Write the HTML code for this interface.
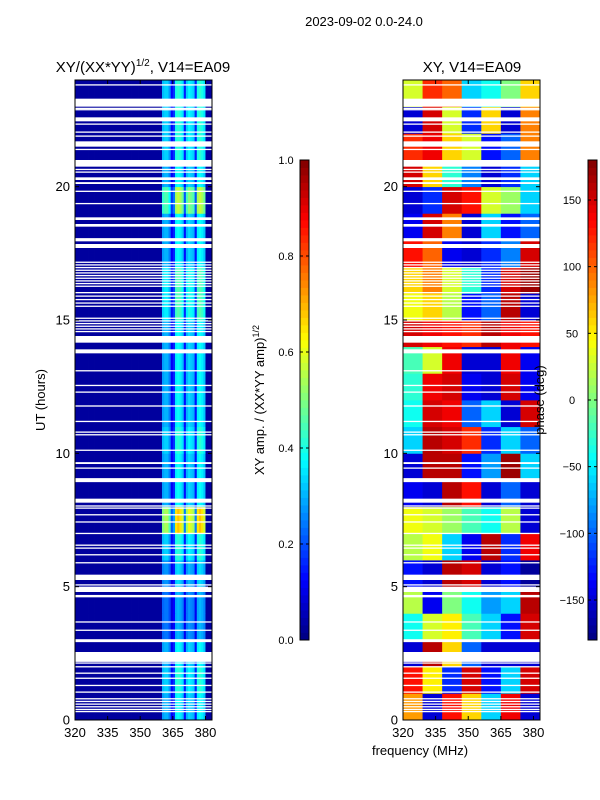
<!DOCTYPE html>
<html><head><meta charset="utf-8"><style>
body{margin:0;background:#fff;}
svg{display:block;font-family:"Liberation Sans",sans-serif;}
</style></head><body>
<svg id="fig" width="600" height="800" viewBox="0 0 600 800">
<rect width="600" height="800" fill="#fff"/>
<text x="364" y="26" font-size="13" text-anchor="middle">2023-09-02 0.0-24.0</text>
<text x="143" y="72" font-size="15" text-anchor="middle">XY/(XX*YY)<tspan font-size="10" dy="-6">1/2</tspan><tspan dy="6">, V14=EA09</tspan></text>
<text x="472" y="72" font-size="15" text-anchor="middle">XY, V14=EA09</text>
<g id="ampG"></g>
<g id="phG"></g>
<g id="gapG"></g>
<g id="axG"></g>
<text transform="translate(45,400) rotate(-90)" font-size="13" text-anchor="middle">UT (hours)</text>
<text x="420" y="755" font-size="13" text-anchor="middle">frequency (MHz)</text>
<text transform="translate(264,400) rotate(-90)" font-size="13" text-anchor="middle">XY amp. / (XX*YY amp)<tspan font-size="9" dy="-5">1/2</tspan></text>
<text transform="translate(544,400) rotate(-90)" font-size="13" text-anchor="middle">phase (deg)</text>
</svg>
<script>
// ---------- data ----------
const ampChanStart = 320;
const ampProfile = [0.03,0.03,0.03,0.03,0.03,0.03,0.03,0.03,0.03,0.03,
  0.03,0.03,0.03,0.03,0.03,0.03,0.03,0.03,0.03,0.03,
  0.03,0.03,0.03,0.03,0.03,0.03,0.03,0.03,0.03,0.03,
  0.03,0.03,0.03,0.03,0.03,0.03,0.03,0.03,0.03,0.03,
  0.28,0.3,0.3,0.25,0.12,0.16,0.36,0.38,0.36,0.32,
  0.14,0.3,0.34,0.32,0.3,0.14,0.36,0.38,0.36,0.32,
  0.03,0.03,0.03];
const ampHourGain = [1.0,1.1,1.0,0.8,0.8,0.9,1.1,1.8,1.0,1.0,1.1,1.0,1.0,1.0,1.0,1.2,1.2,1.0,1.0,1.5,1.0,1.1,1.1,1.1];
const phaseFreqEdges = [320,329,338,347,356,365,374,383];
const phaseRows = [ // hour 0..23, 7 frequency groups (deg)
 [80,-150,130,60,-60,140,-150],
 [130,50,-120,150,-130,-60,150],
 [-150,160,60,-100,-150,-150,-150],
 [-40,30,50,-20,-60,-130,150],
 [20,-140,0,-40,-80,-60,160],
 [-130,-150,160,150,-150,-130,-170],
 [20,40,-60,-140,160,-120,140],
 [40,30,10,-20,-40,20,-150],
 [-140,-150,160,130,-150,-100,-150],
 [-150,160,160,-130,-80,170,-60],
 [-60,160,150,120,-120,-60,-100],
 [-40,150,140,-100,-60,-150,150],
 [-30,140,150,-140,-150,150,-140],
 [-20,30,140,-150,-150,140,-140],
 [150,140,130,120,160,140,130],
 [40,60,20,-130,-100,160,-150],
 [60,90,30,-30,-120,150,170],
 [130,100,-140,-150,-120,-90,150],
 [-140,150,90,-150,-60,-130,-100],
 [-150,-120,150,130,30,10,-60],
 [150,60,-30,-90,-150,-120,-60],
 [120,140,60,30,-130,-100,90],
 [-150,150,30,-120,60,-150,90],
 [30,120,100,-60,-40,0,60]];
const gapStart = [23.8,23.0,22.92,22.87,22.45,22.33,22.03,21.88,21.5,21.38,20.75,20.63,20.53,20.25,20.1,19.81,19.35,18.75,18.5,17.95,17.7,
 17.15,17.05,16.95,16.85,16.75,16.65,16.55,16.45,16.35,16.25,16.0,15.88,15.75,15.62,15.5,15.05,14.95,14.85,14.75,14.65,14.55,14.15,13.75,13.08,12.53,12.28,
 11.75,11.18,10.78,10.68,10.1,9.6,9.43,8.92,8.15,8.01,7.93,7.68,7.41,6.98,6.54,6.43,6.18,5.88,5.25,5.05,4.8,4.6,3.66,3.35,2.92,2.18,2.12,1.98,1.74,1.55,1.28,1.03,
 0.78,0.68,0.58,0.48,0.38,0.3];
const gapEnd = [23.84,23.3,22.96,22.91,22.6,22.37,22.07,21.92,21.7,21.42,21.0,20.67,20.57,20.35,20.17,19.85,19.39,18.85,18.6,18.07,17.85,
 17.19,17.09,16.99,16.89,16.79,16.69,16.59,16.49,16.39,16.29,16.05,15.92,15.79,15.66,15.54,15.09,14.99,14.89,14.79,14.69,14.59,14.4,13.9,13.12,12.57,12.32,
 11.8,11.22,10.82,10.72,10.14,9.67,9.47,9.07,8.3,8.05,7.97,7.72,7.45,7.02,6.58,6.47,6.22,5.92,5.45,5.09,5.0,4.69,3.7,3.39,3.03,2.55,2.16,2.02,1.78,1.59,1.32,1.07,
 0.82,0.72,0.62,0.52,0.42,0.34];
const ampTicks = [0,0.2,0.4,0.6,0.8,1.0];
const phaseTicks = [-150,-100,-50,0,50,100,150];
const xTicks = [320,335,350,365,380];
const yTicks = [0,5,10,15,20];

// ---------- geometry ----------
const NS='http://www.w3.org/2000/svg';
const P1={x0:75,x1:212}, P2={x0:403,x1:540}, Y0=720, Y1=80;
const F0=320,F1=383, H0=0,H1=24;
function xs(P,f){return P.x0+(f-F0)/(F1-F0)*(P.x1-P.x0);}
function ys(h){return Y0-(h-H0)/(H1-H0)*(Y0-Y1);}
function jet(v){v=Math.max(0,Math.min(1,v));
 const r=Math.min(4*v-1.5,-4*v+4.5),g=Math.min(4*v-0.5,-4*v+3.5),b=Math.min(4*v+0.5,-4*v+2.5);
 const c=t=>Math.round(255*Math.max(0,Math.min(1,t)));return `rgb(${c(r)},${c(g)},${c(b)})`;}
function mk(tag,attrs,parent){const e=document.createElementNS(NS,tag);for(const k in attrs)e.setAttribute(k,attrs[k]);parent.appendChild(e);return e;}

// amplitude heatmap
const ampG=document.getElementById('ampG');
for(let h=0;h<ampHourGain.length;h++){
 for(let c=0;c<ampProfile.length;c++){
  const f=ampChanStart+c;
  const v=f>=360&&f<380?ampProfile[c]*ampHourGain[h]:ampProfile[c];
  const r=mk('rect',{x:xs(P1,f),y:ys(h+1),width:xs(P1,f+1)-xs(P1,f)+0.4,height:ys(h)-ys(h+1)+0.4,fill:jet(v)},ampG);
  
  
 }
}
// phase heatmap
const phG=document.getElementById('phG');
for(let h=0;h<phaseRows.length;h++){
 for(let c=0;c<phaseRows[h].length;c++){
  const r=mk('rect',{x:xs(P2,phaseFreqEdges[c]),y:ys(h+1),width:xs(P2,phaseFreqEdges[c+1])-xs(P2,phaseFreqEdges[c])+0.4,height:ys(h)-ys(h+1)+0.4,fill:jet((phaseRows[h][c]+180)/360)},phG);
  
  
 }
}
// gaps
const gapG=document.getElementById('gapG');
for(let i=0;i<gapStart.length;i++){
 const y=ys(gapEnd[i]),hh=Math.max(1.3,ys(gapStart[i])-ys(gapEnd[i]));
 for(const P of [P1,P2]){
  const r=mk('rect',{x:P.x0,y:y,width:P.x1-P.x0,height:hh,fill:'#fff'},gapG);
  
  
 }
}
// axes
const axG=document.getElementById('axG');
for(const [P,nm] of [[P1,'left'],[P2,'right']]){
 const fr=mk('rect',{x:P.x0,y:Y1,width:P.x1-P.x0,height:Y0-Y1,fill:'none',stroke:'#000','stroke-width':1},axG);
 
 
 xTicks.forEach(t=>{const x=xs(P,t);
  mk('line',{x1:x,x2:x,y1:Y0,y2:Y0-4,stroke:'#000'},axG);mk('line',{x1:x,x2:x,y1:Y1,y2:Y1+4,stroke:'#000'},axG);
  const tx=mk('text',{x:x,y:Y0+17,'font-size':13,'text-anchor':'middle'},axG);tx.textContent=t;
  
  });
 yTicks.forEach(t=>{const y=ys(t);
  mk('line',{x1:P.x0,x2:P.x0+4,y1:y,y2:y,stroke:'#000'},axG);mk('line',{x1:P.x1,x2:P.x1-4,y1:y,y2:y,stroke:'#000'},axG);
  const tx=mk('text',{x:P.x0-5,y:y+4.5,'font-size':13,'text-anchor':'end'},axG);tx.textContent=t;
  
  });
}
// colorbars
function colorbar(x,id,ticks,vmin,vmax,fmt,labelX){
 const g=mk('g',{},axG);
 
 
 const n=64,top=160,bot=640;
 for(let i=0;i<n;i++){const y=bot-(i+1)*(bot-top)/n;mk('rect',{x:x,y:y,width:9,height:(bot-top)/n+0.4,fill:jet((i+0.5)/n)},g);}
 mk('rect',{x:x,y:top,width:9,height:bot-top,fill:'none',stroke:'#000'},g);
 ticks.forEach(t=>{const y=bot-(t-vmin)/(vmax-vmin)*(bot-top);
  mk('line',{x1:x,x2:x+3,y1:y,y2:y,stroke:'#000'},g);mk('line',{x1:x+9,x2:x+6,y1:y,y2:y,stroke:'#000'},g);
  const tx=mk('text',{x:labelX,y:y+4,'font-size':11,'text-anchor':'middle'},g);tx.textContent=fmt(t);
  
  });
}
colorbar(300,'amp-colorbar',ampTicks,0,1,t=>t.toFixed(1),286);
colorbar(588,'phase-colorbar',phaseTicks,-180,180,t=>String(t).replace('-','\u2212'),572);
</script>
</body></html>
